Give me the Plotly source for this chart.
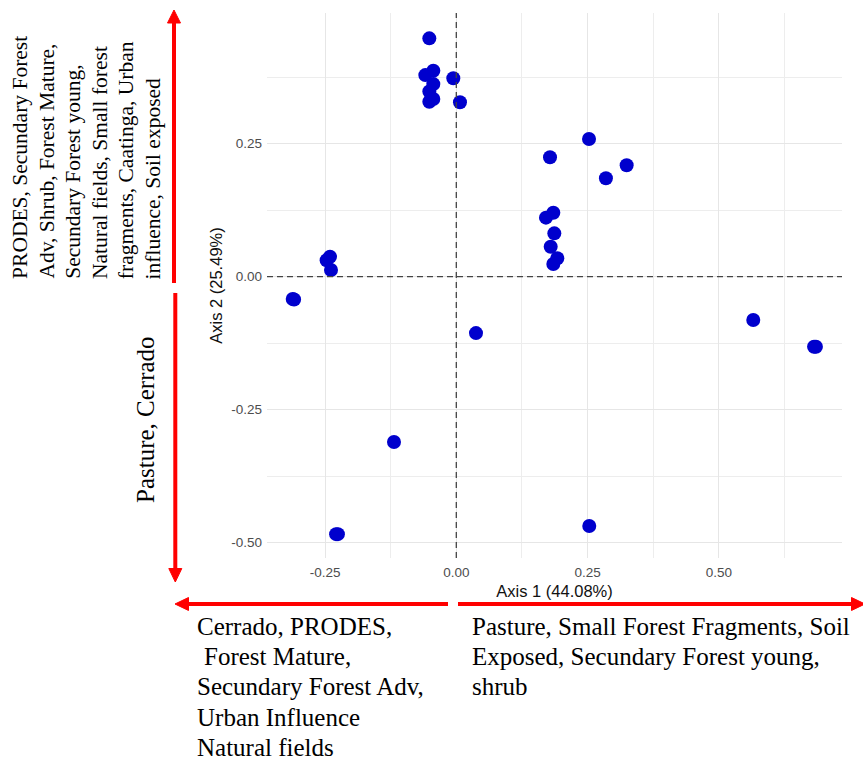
import plotly.graph_objects as go

# ---------------- data ----------------
axis1 = [-0.0514, -0.0438, -0.0590, -0.0438, -0.0514, -0.0438, -0.0514, -0.0057, 0.0070,
         -0.2406, -0.2470, -0.2387, -0.3116, -0.3090, 0.0375, -0.1187, -0.2290, -0.2255,
         0.2528, 0.1785, 0.3245, 0.2850, 0.1848, 0.1708, 0.1867, 0.1798, 0.1924, 0.1848,
         0.5657, 0.6815, 0.6850, 0.2533]
axis2 = [0.448, 0.387, 0.379, 0.362, 0.348, 0.334, 0.329, 0.373, 0.328,
         0.0376, 0.031, 0.0126, -0.042, -0.043, -0.106, -0.3107, -0.484, -0.484,
         0.2588, 0.2244, 0.2094, 0.185, 0.1203, 0.111, 0.0815, 0.0564, 0.0346, 0.0239,
         -0.0814, -0.1316, -0.1316, -0.4686]

x_tick_vals = [-0.25, 0.0, 0.25, 0.5]
x_tick_text = ["-0.25", "0.00", "0.25", "0.50"]
y_tick_vals = [-0.5, -0.25, 0.0, 0.25]
y_tick_text = ["-0.50", "-0.25", "0.00", "0.25"]

x_title = "Axis 1 (44.08%)"
y_title = "Axis 2 (25.49%)"

top_text = ["PRODES, Secundary Forest", "Adv, Shrub, Forest Mature,", "Secundary Forest young,",
            "Natural fields, Small forest", "fragments, Caatinga, Urban", "influence, Soil exposed"]
bottom_y_text = "Pasture, Cerrado"
left_text = ["Cerrado, PRODES,", "Forest Mature,", "Secundary Forest Adv,", "Urban Influence",
             "Natural fields"]
right_text = ["Pasture, Small Forest Fragments, Soil", "Exposed, Secundary Forest young,", "shrub"]

# ---------------- layout geometry ----------------
FW, FH = 863, 760
L, R, T, B = 267, 842, 13, 558
PW, PH = R - L, B - T

def pxx(x):
    return (x - L) / PW

def pxy(y):
    return (B - y) / PH

SERIF = "Liberation Serif, Times New Roman, serif"
SANS = "Liberation Sans, Arial, Helvetica, sans-serif"
RED = "#FF0000"

fig = go.Figure()
fig.add_trace(go.Scatter(x=axis1, y=axis2, mode="markers",
                         marker=dict(size=14, color="#0000CD", line=dict(width=0)),
                         showlegend=False, hoverinfo="x+y"))

grid_common = dict(showgrid=True, gridcolor="#E6E6E6", gridwidth=1.1, zeroline=False,
                   showline=False, ticks="", tickfont=dict(family=SANS, size=13.5, color="#4D4D4D"))

fig.update_layout(
    width=FW, height=FH,
    margin=dict(l=L, r=FW - R, t=T, b=FH - B, pad=0),
    paper_bgcolor="white", plot_bgcolor="white",
    xaxis=dict(range=[-0.3606, 0.7347], tickmode="array", tickvals=x_tick_vals, ticktext=x_tick_text,
               minor=dict(dtick=0.125, tick0=0.125, showgrid=True, gridcolor="#EDEDED", gridwidth=0.9),
               title=dict(text=x_title, font=dict(family=SANS, size=16.5, color="#111"), standoff=6),
               ticklabelstandoff=4,
               **grid_common),
    yaxis=dict(range=[-0.5288, 0.4957], tickmode="array", tickvals=y_tick_vals, ticktext=y_tick_text,
               minor=dict(dtick=0.125, tick0=0.125, showgrid=True, gridcolor="#EDEDED", gridwidth=0.9),
               title=dict(text=y_title, font=dict(family=SANS, size=16.5, color="#111"), standoff=4),
               ticklabelstandoff=4,
               **grid_common),
)

# dashed reference lines at 0
fig.add_hline(y=0, line=dict(color="#444444", width=1.3, dash="6px,4px"))
fig.add_vline(x=0, line=dict(color="#444444", width=1.3, dash="6px,4px"))

# red arrows (lines + triangular heads) in paper coordinates
def red_line(x0, y0, x1, y1):
    fig.add_shape(type="line", xref="paper", yref="paper", x0=pxx(x0), y0=pxy(y0), x1=pxx(x1), y1=pxy(y1),
                  line=dict(color=RED, width=4), layer="above")

def red_head(pts):
    path = "M " + " L ".join(f"{pxx(a):.5f},{pxy(b):.5f}" for a, b in pts) + " Z"
    fig.add_shape(type="path", xref="paper", yref="paper", path=path,
                  fillcolor=RED, line=dict(color=RED, width=1), layer="above")

# vertical up
red_line(174, 283, 174, 20)
red_head([(174, 10), (167.5, 23), (180.5, 23)])
# vertical down
red_line(175.3, 293, 175.3, 570)
red_head([(175.3, 582), (168.8, 568.5), (181.8, 568.5)])
# horizontal left
red_line(448, 604, 186, 604)
red_head([(175, 604), (188.5, 597.5), (188.5, 610.5)])
# horizontal right
red_line(458, 604, 853, 604)
red_head([(865, 604), (851.5, 597.5), (851.5, 610.5)])

# rotated text, upper-left block
fs_top = 21.5
for i, line in enumerate(top_text):
    base_x = 26.7 + 26.7 * i
    fig.add_annotation(xref="paper", yref="paper", x=pxx(base_x - 0.34 * fs_top), y=pxy(280),
                       xanchor="center", yanchor="bottom", textangle=-90, showarrow=False,
                       text=line, font=dict(family=SERIF, size=fs_top, color="black"), borderpad=0)

# rotated text, lower-left
fig.add_annotation(xref="paper", yref="paper", x=pxx(153.3 - 0.34 * 25), y=pxy(419.2),
                   xanchor="center", yanchor="middle", textangle=-90, showarrow=False,
                   text=bottom_y_text, font=dict(family=SERIF, size=25, color="black"), borderpad=0)

# bottom blocks
fs_b = 25
for i, line in enumerate(left_text):
    base_y = 634.5 + 30.4 * i
    x0 = 202.5 if i == 1 else 196
    fig.add_annotation(xref="paper", yref="paper", x=pxx(x0), y=pxy(base_y - 0.34 * fs_b),
                       xanchor="left", yanchor="middle", showarrow=False,
                       text=line, font=dict(family=SERIF, size=fs_b, color="black"), borderpad=0)
for i, line in enumerate(right_text):
    base_y = 634.5 + 30.4 * i
    fig.add_annotation(xref="paper", yref="paper", x=pxx(470.7), y=pxy(base_y - 0.34 * fs_b),
                       xanchor="left", yanchor="middle", showarrow=False,
                       text=line, font=dict(family=SERIF, size=fs_b, color="black"), borderpad=0)

fig.write_html("out.html", config={"displayModeBar": False},
               post_script="document.body.style.margin='0';document.body.style.overflow='hidden';")
